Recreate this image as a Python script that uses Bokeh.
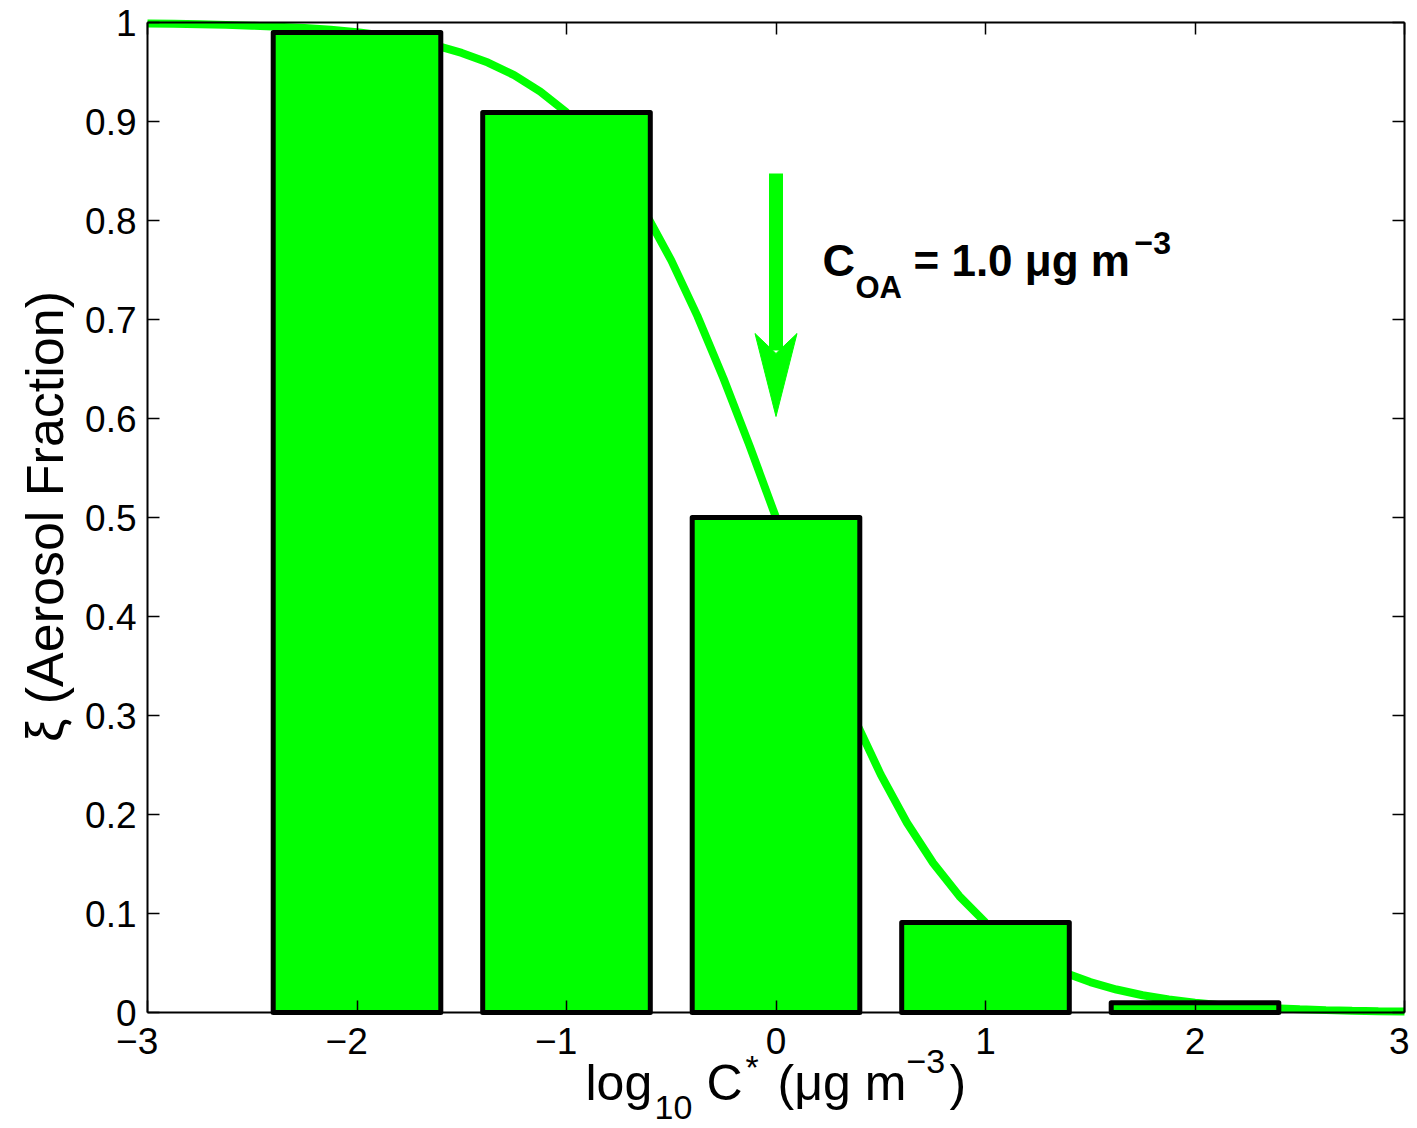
import math
from bokeh.plotting import figure
from bokeh.models import Range1d, FixedTicker, CustomJSTickFormatter, LinearAxis, Label
from bokeh.embed import file_html
from bokeh.resources import INLINE

# ---- data ----
bin_log_c = [-2, -1, 0, 1, 2]
bin_fraction = [0.990, 0.909, 0.500, 0.0909, 0.0099]

curve_log_c = [-3.0, -2.875, -2.75, -2.625, -2.5, -2.375, -2.25, -2.125, -2.0, -1.875, -1.75,
               -1.625, -1.5, -1.375, -1.25, -1.125, -1.0, -0.875, -0.75, -0.625, -0.5, -0.375,
               -0.25, -0.125, 0.0, 0.125, 0.25, 0.375, 0.5, 0.625, 0.75, 0.875, 1.0, 1.125,
               1.25, 1.375, 1.5, 1.625, 1.75, 1.875, 2.0, 2.125, 2.25, 2.375, 2.5, 2.625,
               2.75, 2.875, 3.0]
curve_fraction = [0.9990, 0.9987, 0.9982, 0.9976, 0.9968, 0.9958, 0.9944, 0.9926, 0.9901, 0.9868,
                  0.9826, 0.9768, 0.9693, 0.9595, 0.9468, 0.9302, 0.9091, 0.8824, 0.8490, 0.8083,
                  0.7597, 0.7034, 0.6401, 0.5718, 0.5000, 0.4282, 0.3599, 0.2966, 0.2403, 0.1917,
                  0.1510, 0.1176, 0.0909, 0.0698, 0.0532, 0.0405, 0.0307, 0.0232, 0.0174, 0.0132,
                  0.0099, 0.0074, 0.0056, 0.0042, 0.0032, 0.0024, 0.0018, 0.0013, 0.0010]

x_ticks = [-3, -2, -1, 0, 1, 2, 3]
y_ticks = [0, 0.1, 0.2, 0.3, 0.4, 0.5, 0.6, 0.7, 0.8, 0.9, 1.0]
x_lim = (-3, 3)
y_lim = (0, 1)

c_oa_log = 0.0  # arrow marks log10 C_OA

GREEN = "#00ff00"
FONT = "Liberation Sans"

# pixel layout of the axes box inside the canvas
W, H = 1409, 1128
FX0, FX1, FY0, FY1 = 147, 1404, 1012, 22  # left, right, bottom(y=0), top(y=1)
def px2x(px):
    return x_lim[0] + (px - FX0) / (FX1 - FX0) * (x_lim[1] - x_lim[0])
def px2y(py):
    return y_lim[0] + (FY0 - py) / (FY0 - FY1) * (y_lim[1] - y_lim[0])

p = figure(width=W, height=H, output_backend="svg", toolbar_location=None,
           x_range=Range1d(px2x(0), px2x(W)), y_range=Range1d(px2y(H), px2y(0)),
           min_border=0, x_axis_location=None, y_axis_location=None)
p.grid.visible = False
p.outline_line_color = None
p.background_fill_color = "white"
p.border_fill_color = "white"

fmt = CustomJSTickFormatter(code="""
var v = Math.round(tick*10)/10;
var s = v.toString();
if (v < 0) { s = '\u2212' + s.substring(1) + '\u2007'; }
return s;
""")

def make_axis(loc, fixed, ticks, bounds, show_labels):
    ax = LinearAxis(ticker=FixedTicker(ticks=ticks), formatter=fmt,
                    fixed_location=fixed, bounds=bounds)
    ax.axis_line_color = "black"
    ax.axis_line_width = 2
    ax.major_tick_in = 12
    ax.major_tick_out = 0
    ax.major_tick_line_width = 1.5
    ax.major_tick_line_color = "black"
    ax.minor_tick_line_color = None
    if show_labels:
        ax.major_label_text_font = FONT
        ax.major_label_text_font_size = "37px"
        ax.major_label_text_color = "black"
    else:
        ax.major_label_text_font_size = "0px"
        ax.major_label_standoff = 0
        ax.major_label_text_color = None
    p.add_layout(ax, loc)
    return ax

bx = make_axis("below", y_lim[0], x_ticks, x_lim, True)
bx.major_label_standoff = 8
ly = make_axis("left", x_lim[0], y_ticks, y_lim, True)
ly.major_label_standoff = 11
make_axis("above", y_lim[1], x_ticks, x_lim, False)
make_axis("right", x_lim[1], y_ticks, y_lim, False)

# curve under bars
p.line(curve_log_c, curve_fraction, line_color=GREEN, line_width=8)

p.vbar(x=bin_log_c, top=bin_fraction, bottom=0, width=0.8, fill_color=GREEN,
       line_color="black", line_width=5, line_join="round")

# arrow
half_w = 21 / (FX1 - FX0) * (x_lim[1] - x_lim[0])
p.segment(x0=[c_oa_log], y0=[px2y(173)], x1=[c_oa_log], y1=[px2y(350)],
          line_color=GREEN, line_width=14, line_cap="butt")
p.patch(x=[c_oa_log - half_w, c_oa_log, c_oa_log + half_w, c_oa_log],
        y=[px2y(333), px2y(416), px2y(333), px2y(353)],
        fill_color=GREEN, line_color=GREEN, line_width=1)

def lab(text, px, py, size, bold=False, align="left", angle=0.0):
    l = Label(x=px2x(px), y=px2y(py), text=text, text_font=FONT,
              text_font_size=f"{size}px", text_font_style="bold" if bold else "normal",
              text_color="black", text_align=align, text_baseline="alphabetic",
              angle=angle)
    p.add_layout(l)

# annotation
lab("C", 822, 260, 45, bold=True)
lab("OA", 855, 287, 31, bold=True)
lab("= 1.0 \u03bcg m", 913, 260, 44, bold=True)
lab("\u22123", 1134, 242, 32, bold=True)

# x-axis label
lab("log", 585, 1082, 50)
lab("10", 654, 1107, 34)
lab("C", 706, 1082, 50)
lab("*", 745, 1066, 34)
lab("(\u03bcg m", 777, 1082, 50)
lab("\u22123", 906, 1061, 34)
lab(")", 949, 1082, 50)

# y-axis label
lab("\u03be (Aerosol Fraction)", 44, 516, 52, align="center", angle=math.pi / 2)

open("out.html", "w").write(file_html(p, INLINE))
